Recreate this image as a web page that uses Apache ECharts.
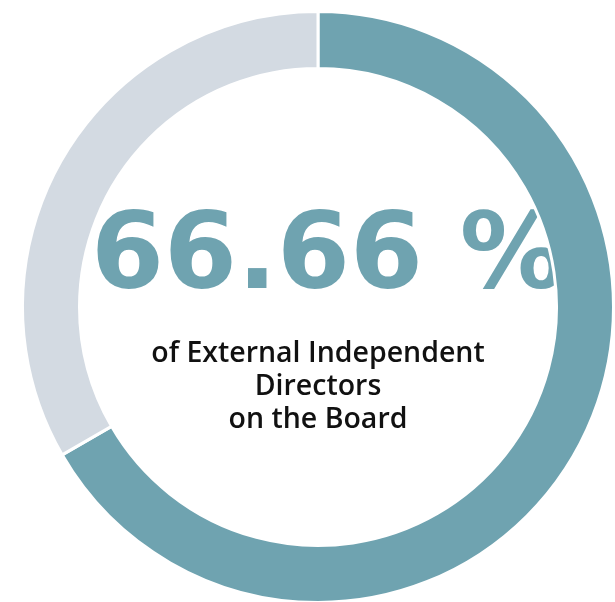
<!DOCTYPE html>
<html>
<head>
<meta charset="utf-8">
<script src="https://cdn.jsdelivr.net/npm/echarts@6/dist/echarts.min.js"></script>
<style>
  html,body{margin:0;padding:0;background:#fff}
  #chart{width:615px;height:602px}
</style>
</head>
<body>
<div id="chart"></div>
<script>
// share of board members
var names = ['External Independent Directors', 'Other Directors']
var values = [66.66, 33.34]
var colors = ['#6fa3b0', '#d3dae2']
var bigLabel = '66.66 %'
var subLabel = 'of External Independent\nDirectors\non the Board'

var chart = echarts.init(document.getElementById('chart'))

var data = names.map((n, i) => ({
  name: n,
  value: values[i],
  itemStyle: {color: colors[i]}
}))

chart.setOption({
  animation: false,
  series: [{
    type: 'pie',
    center: [318, 307],
    radius: [238.5, 295.5],
    startAngle: 90,
    clockwise: true,
    label: {show: false},
    labelLine: {show: false},
    emphasis: {disabled: true},
    itemStyle: {
      borderColor: '#fff',
      borderWidth: 3
    },
    data: data
  }],
  graphic: [{
    type: 'text',
    x: 328,
    y: 261,
    style: {
      text: bigLabel,
      fill: colors[0],
      font: 'bold 105px "DejaVu Sans"',
      align: 'center',
      verticalAlign: 'middle'
    }
  }, {
    type: 'text',
    x: 318,
    y: 387,
    style: {
      text: subLabel,
      fill: '#111',
      font: '600 28.5px "Open Sans"',
      lineHeight: 33,
      align: 'center',
      verticalAlign: 'middle'
    }
  }]
})
</script>
</body>
</html>
